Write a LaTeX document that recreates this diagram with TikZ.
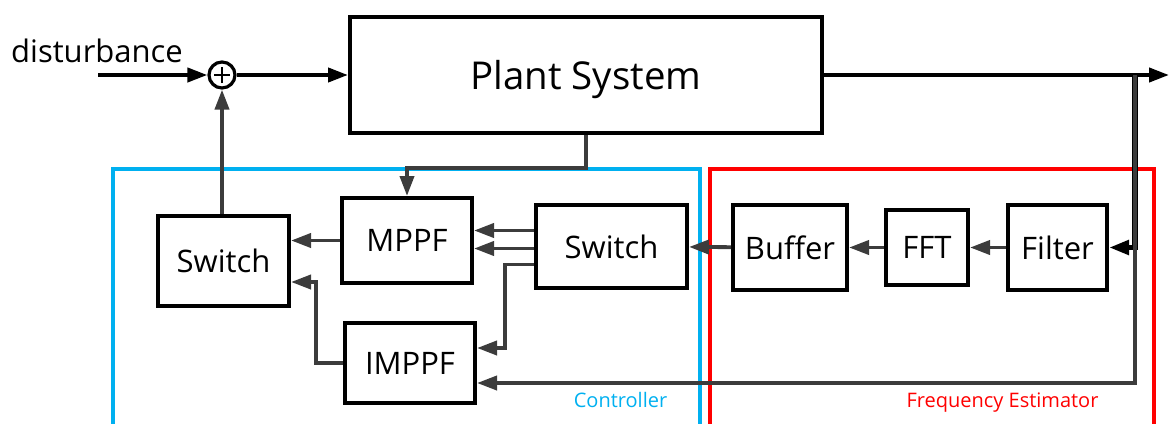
\documentclass[tikz,border=0pt]{standalone}
\usepackage{fontspec}
\setmainfont{Open Sans}
\usetikzlibrary{arrows.meta}
\definecolor{ctrlblue}{RGB}{0,176,240}
\definecolor{wire}{RGB}{60,60,60}

\begin{document}
\begin{tikzpicture}[x=0.5pt,y=-0.5pt,>={Triangle[length=10pt,width=7pt]},
  block/.style={draw,line width=2pt,align=center,inner sep=0pt,
    font=\fontsize{15.5}{18}\selectfont},
  conn/.style={->,draw=wire,line width=1.9pt},
  main/.style={->,line width=2pt},
  frame/.style={line width=2pt}]
  \useasboundingbox (0,0) rectangle (1170,423);

  % frames
  \draw[frame,ctrlblue] (113,440) |- (700,169) -- (700,440);
  \draw[frame,red] (710,440) |- (1154,169) -- (1154,440);
  \node[ctrlblue,anchor=base,font=\fontsize{10}{12}\selectfont] (ctrl) at (620.5,407) {Controller};
  \node[red,anchor=base,font=\fontsize{10}{12}\selectfont] (fest) at (1002.5,407) {Frequency Estimator};

  % blocks
  \node[block,minimum width=236pt,minimum height=58pt,text depth=0pt,
    font=\fontsize{19.2}{22}\selectfont] (plant) at (586,75) {Plant System};
  \node[draw,circle,line width=1.6pt,minimum size=13pt,inner sep=0pt] (sum) at (222,75) {};
  \draw[line width=1pt] ([xshift=-4pt]sum.center) -- ([xshift=4pt]sum.center)
    ([yshift=-4pt]sum.center) -- ([yshift=4pt]sum.center);
  \node[anchor=base,font=\fontsize{15.5}{18}\selectfont] (dist) at (97,62) {disturbance};
  \coordinate (din) at (98,75);
  \coordinate (out) at (1169,75);
  \coordinate (br) at (1135,75);

  \node[block,minimum width=65.5pt,minimum height=45pt] (swA) at (223.5,261) {Switch};
  \node[block,minimum width=65pt,minimum height=42.5pt] (mppf) at (407,240.5) {MPPF};
  \node[block,minimum width=65pt,minimum height=40pt] (imppf) at (410,363) {IMPPF};
  \node[block,minimum width=75.5pt,minimum height=41.5pt] (swB) at (611.5,246.5) {Switch};
  \node[block,minimum width=57pt,minimum height=42.5pt] (buf) at (790,247.5) {Buffer};
  \node[block,minimum width=41pt,minimum height=37.5pt] (fft) at (927,247.5) {FFT};
  \node[block,minimum width=49.5pt,minimum height=42.5pt] (filt) at (1057.5,247.5) {Filter};

  % main loop
  \draw[main] (din) -- (sum);
  \draw[main] (sum) -- (plant);
  \draw[main] (plant.east) -- (out);
  \draw[main,line width=2.6pt] (br) |- (filt);
  \draw[conn] (br) -- (br |- 0,383) -- ([yshift=-10pt]imppf.east);

  % estimator
  \draw[conn] (filt) -- (fft);
  \draw[conn] (fft) -- (buf);
  \draw[conn] (buf) -- (swB);

  % controller
  \draw[conn] (plant.south) -- ++(0,33) -| (mppf.north);
  \draw[conn] ([yshift=8pt]swB.west) -- ([yshift=8pt]swB.west -| mppf.east);
  \draw[conn] ([yshift=-1pt]swB.west) -- ([yshift=-1pt]swB.west -| mppf.east);
  \draw[conn] ([yshift=-9pt]swB.west) -- ++(-29,0) |- ([yshift=7.5pt]imppf.east);
  \draw[conn] (mppf.west) -- (mppf.west -| swA.east);
  \draw[conn] (imppf.west) -- ++(-27,0) |- ([yshift=-10.5pt]swA.east);
  \draw[conn] (swA.north -| sum.south) -- (sum.south);
\end{tikzpicture}
\end{document}
